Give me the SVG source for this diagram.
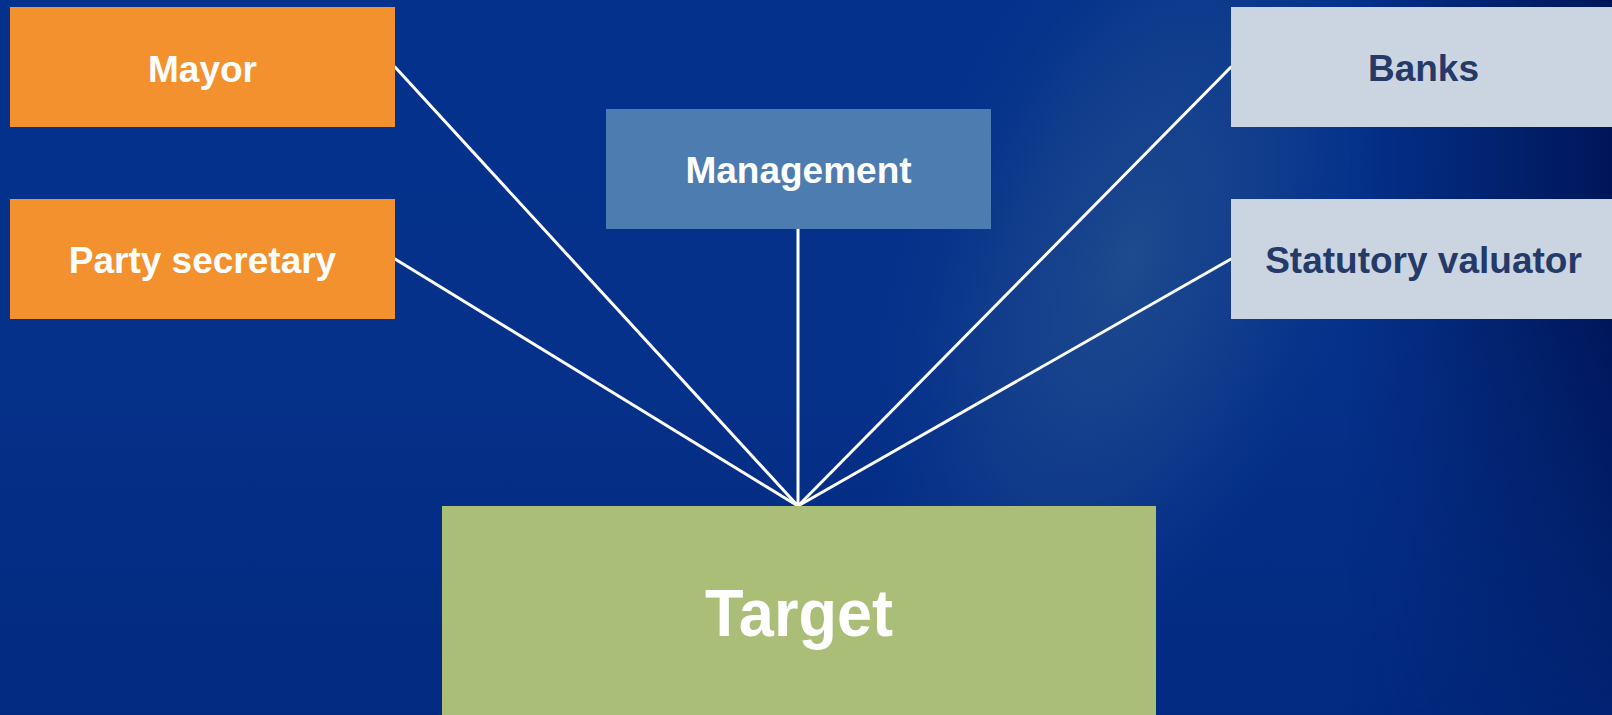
<svg xmlns="http://www.w3.org/2000/svg" width="1612" height="715" viewBox="0 0 1612 715">
  <defs>
    <radialGradient id="glow" cx="1130" cy="260" r="300" gradientUnits="userSpaceOnUse" gradientTransform="translate(1130 260) rotate(20) scale(0.75 1.5) translate(-1130 -260)">
      <stop offset="0" stop-color="#24508f" stop-opacity="0.8"/>
      <stop offset="0.55" stop-color="#1c478e" stop-opacity="0.5"/>
      <stop offset="1" stop-color="#0a3a8e" stop-opacity="0"/>
    </radialGradient>
    <linearGradient id="rightShade" x1="1350" y1="0" x2="1612" y2="0" gradientUnits="userSpaceOnUse">
      <stop offset="0" stop-color="#001a60" stop-opacity="0"/>
      <stop offset="0.7" stop-color="#00185c" stop-opacity="0.75"/>
      <stop offset="1" stop-color="#001456" stop-opacity="0.95"/>
    </linearGradient>
    <linearGradient id="rightFade" x1="0" y1="300" x2="0" y2="715" gradientUnits="userSpaceOnUse">
      <stop offset="0" stop-color="#fff"/>
      <stop offset="1" stop-color="#fff" stop-opacity="0.35"/>
    </linearGradient>
    <mask id="rightMask">
      <rect x="0" y="0" width="1612" height="715" fill="url(#rightFade)"/>
    </mask>
    <linearGradient id="baseShade" x1="0" y1="0" x2="0" y2="715" gradientUnits="userSpaceOnUse">
      <stop offset="0" stop-color="#03318c"/>
      <stop offset="0.5" stop-color="#06318a"/>
      <stop offset="1" stop-color="#022a80"/>
    </linearGradient>
    <style>
      .box-orange { fill: #f4912f; }
      .box-mgmt { fill: #4d7cb1; }
      .box-light { fill: #cbd5e2; }
      .box-target { fill: #aabe78; }
      .lbl { font-family: "Liberation Sans", Arial, sans-serif; font-weight: bold; font-size: 37px; text-anchor: middle; }
      .lbl-white { fill: #ffffff; }
      .lbl-dark { fill: #263a68; }
      .link { stroke: #ffffff; stroke-width: 3; fill: none; stroke-linecap: round; }
    </style>
  </defs>

  <!-- background -->
  <rect x="0" y="0" width="1612" height="715" fill="url(#baseShade)"/>
  <rect x="0" y="0" width="1612" height="715" fill="url(#glow)"/>
  <rect x="0" y="0" width="1612" height="715" fill="url(#rightShade)" mask="url(#rightMask)"/>

  <!-- connectors -->
  <g id="connectors">
    <line class="link" x1="395" y1="67" x2="798" y2="506"/>
    <line class="link" x1="395" y1="259" x2="798" y2="506"/>
    <line class="link" x1="798" y1="228" x2="798" y2="506"/>
    <line class="link" x1="1231" y1="67" x2="798" y2="506"/>
    <line class="link" x1="1231" y1="259" x2="798" y2="506"/>
  </g>

  <g id="mayor">
    <rect class="box-orange" x="10" y="7" width="385" height="120"/>
    <text class="lbl lbl-white" x="202.5" y="82">Mayor</text>
  </g>

  <g id="party-secretary">
    <rect class="box-orange" x="10" y="199" width="385" height="120"/>
    <text class="lbl lbl-white" x="202.5" y="273">Party secretary</text>
  </g>

  <g id="management">
    <rect class="box-mgmt" x="606" y="109" width="385" height="120"/>
    <text class="lbl lbl-white" x="798.5" y="183">Management</text>
  </g>

  <g id="banks">
    <rect class="box-light" x="1231" y="7" width="385" height="120"/>
    <text class="lbl lbl-dark" x="1423.5" y="81">Banks</text>
  </g>

  <g id="statutory-valuator">
    <rect class="box-light" x="1231" y="199" width="385" height="120"/>
    <text class="lbl lbl-dark" x="1423.5" y="273">Statutory valuator</text>
  </g>

  <g id="target">
    <rect class="box-target" x="442" y="506" width="714" height="215"/>
    <text class="lbl lbl-white" x="799" y="636" style="font-size:66px" textLength="188" lengthAdjust="spacingAndGlyphs">Target</text>
  </g>
</svg>
